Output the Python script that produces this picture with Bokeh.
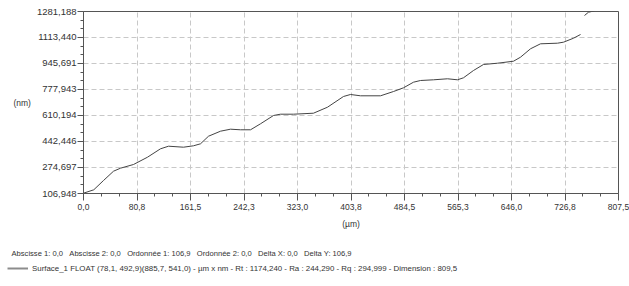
from bokeh.plotting import figure
from bokeh.models import FixedTicker, Label, Legend, LegendItem, ColumnDataSource
from bokeh.layouts import column, row
from bokeh.embed import file_html
from bokeh.resources import INLINE

NAN = float("nan")

# ---- data ----
x_um = [0.0, 15.5, 30.2, 45.3, 55.8, 75.5, 96.6, 116.2, 128.3, 150.9, 166.0, 176.6,
        188.7, 206.8, 221.9, 237.0, 252.1, 267.2, 286.8, 297.3, 317.0, 347.1, 368.3,
        392.4, 403.0, 418.1, 448.3, 467.9, 483.0, 498.1, 508.6, 528.3, 549.4, 564.5,
        573.5, 588.6, 603.7, 624.9, 649.0, 659.6, 674.7, 689.8, 715.4, 724.5, 739.6,
        750.2, NAN, 756.2, 762.2, 770.0, 778.0]
y_nm = [109.0, 130.8, 190.8, 250.8, 270.2, 294.1, 341.2, 395.3, 412.1, 405.7, 414.7, 427.6,
        476.6, 508.9, 521.8, 518.0, 518.0, 556.7, 610.2, 618.6, 618.6, 625.0, 663.8,
        732.8, 745.7, 737.3, 737.3, 765.0, 788.9, 825.1, 836.0, 840.5, 847.0, 840.5,
        853.4, 900.5, 939.3, 947.6, 960.5, 986.4, 1040.6, 1072.8, 1076.7, 1083.2, 1108.9,
        1132.8, NAN, 1255.4, 1276.7, 1284.0, 1300.0]

x_ticks = [0.0, 80.75, 161.5, 242.25, 323.0, 403.75, 484.5, 565.25, 646.0, 726.75, 807.5]
x_tick_labels = ["0,0", "80,8", "161,5", "242,3", "323,0", "403,8", "484,5", "565,3",
                 "646,0", "726,8", "807,5"]
y_ticks = [106.948, 274.697, 442.446, 610.194, 777.943, 945.691, 1113.440, 1281.188]
y_tick_labels = ["106,948", "274,697", "442,446", "610,194", "777,943", "945,691",
                 "1113,440", "1281,188"]

GAP = "\u00a0\u00a0\u00a0"
info_parts = ["Abscisse 1: 0,0", "Abscisse 2: 0,0", "Ordonnée 1: 106,9",
              "Ordonnée 2: 0,0", "Delta X: 0,0", "Delta Y: 106,9"]
info_text = GAP.join(info_parts)
legend_text = ("Surface_1 FLOAT (78,1, 492,9)(885,7, 541,0) - µm x nm - Rt : 1174,240 - "
               "Ra : 244,290 - Rq : 294,999 - Dimension : 809,5")
x_label = "(µm)"
y_label = "(nm)"

FONT = "Liberation Sans"
TXT = "#333333"
AX = "#555555"

W = 629
H_MAIN = 240
H_INFO = 46

p = figure(width=W, height=H_MAIN, output_backend="svg", toolbar_location=None,
           x_range=(x_ticks[0], x_ticks[-1]), y_range=(y_ticks[0], y_ticks[-1]),
           min_border_left=83, min_border_right=11, min_border_top=11,
           min_border_bottom=47)
p.background_fill_color = "white"
p.border_fill_color = "white"
p.outline_line_color = AX
p.outline_line_width = 1

def minors(ticks):
    out = []
    for a, b in zip(ticks[:-1], ticks[1:]):
        d = (b - a) / 3.0
        out += [a + d, a + 2 * d]
    return out

p.xaxis.ticker = FixedTicker(ticks=x_ticks, minor_ticks=minors(x_ticks))
p.yaxis.ticker = FixedTicker(ticks=y_ticks, minor_ticks=minors(y_ticks))
p.xaxis.major_label_overrides = {t: l for t, l in zip(x_ticks, x_tick_labels)}
p.yaxis.major_label_overrides = {t: l for t, l in zip(y_ticks, y_tick_labels)}

for ax in (p.xaxis, p.yaxis):
    ax.axis_line_color = AX
    ax.major_tick_line_color = AX
    ax.minor_tick_line_color = AX
    ax.major_tick_in = 0
    ax.minor_tick_in = 0
    ax.major_label_text_font = FONT
    ax.major_label_text_color = TXT
    ax.axis_label_text_font = FONT
    ax.axis_label_text_font_size = "8.5px"
    ax.axis_label_text_font_style = "normal"
    ax.axis_label_text_color = TXT

p.xaxis.major_label_text_font_size = "8.5px"
p.yaxis.major_label_text_font_size = "9.5px"

p.xaxis.major_tick_out = 7
p.xaxis.minor_tick_out = 3
p.xaxis.major_label_standoff = 3
p.xaxis.axis_label = x_label
p.xaxis.axis_label_standoff = 6

p.yaxis.major_tick_out = 6
p.yaxis.minor_tick_out = 3
p.yaxis.major_label_standoff = 1
p.yaxis.axis_label = y_label
p.yaxis.axis_label_orientation = "horizontal"
p.yaxis.axis_label_standoff = 3

p.grid.grid_line_color = "#c8c8c8"
p.grid.grid_line_dash = "5 3"
p.grid.grid_line_width = 1

src = ColumnDataSource(data=dict(x=x_um, y=y_nm))
p.line("x", "y", source=src, line_color="#444444", line_width=1)

# ---- info strip below the chart ----
q = figure(width=W, height=H_INFO, output_backend="svg", toolbar_location=None,
           x_range=(0, W), y_range=(0, H_INFO), min_border=0,
           x_axis_type=None, y_axis_type=None)
q.grid.visible = False
q.outline_line_color = None
q.background_fill_color = "white"
q.border_fill_color = "white"

info = Label(x=11, y=33, text=info_text, text_font=FONT, text_font_size="7.6px",
             text_color=TXT, text_baseline="middle", text_align="left")
q.add_layout(info)

# legend swatch: a series renderer with no visible points (only its legend glyph shows)
swatch_src = ColumnDataSource(data=dict(x=[NAN, NAN], y=[NAN, NAN]))
swatch = q.line("x", "y", source=swatch_src, line_color="#8c8c8c", line_width=2)
legend = Legend(items=[LegendItem(label=legend_text, renderers=[swatch])],
                location=(7, 13), glyph_width=21, glyph_height=10,
                label_height=10, label_standoff=4, padding=0, margin=0, spacing=0,
                border_line_color=None, background_fill_alpha=0,
                label_text_font=FONT, label_text_font_size="7.9px",
                label_text_color=TXT)
q.add_layout(legend, "center")

layout = column(p, row(q), spacing=0)
open("out.html", "w").write(file_html(layout, INLINE))
